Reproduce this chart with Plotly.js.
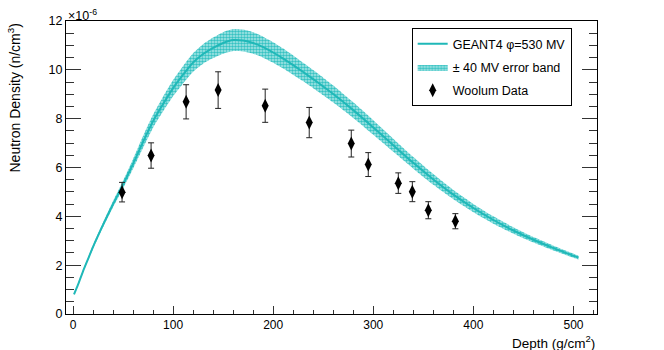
<!DOCTYPE html>
<html>
<head>
<meta charset="utf-8">
<script src="https://cdn.plot.ly/plotly-3.0.1.min.js"></script>
<style>
html,body{margin:0;padding:0;background:#fff;}
#chart{width:664px;height:350px;}
</style>
</head>
<body>
<div id="chart"></div>
<script>
// GEANT4 simulation (phi = 530 MV), depth in g/cm^2, density in 1e-6 n/cm^3
const simDepth  = [1, 5, 10, 15, 20, 30, 40, 50, 60, 70, 80, 90, 100, 110, 120, 130, 140, 150, 160, 170, 180, 190, 200, 210, 220, 230, 240, 250, 260, 280, 300, 320, 340, 360, 380, 400, 420, 440, 460, 480, 505];
const simCenter = [0.80, 1.20, 1.75, 2.25, 2.75, 3.65, 4.50, 5.30, 6.15, 7.05, 7.90, 8.60, 9.25, 9.80, 10.30, 10.65, 10.90, 11.10, 11.22, 11.20, 11.10, 10.93, 10.71, 10.46, 10.19, 9.91, 9.62, 9.32, 9.01, 8.35, 7.64, 6.91, 6.19, 5.51, 4.89, 4.34, 3.85, 3.42, 3.04, 2.70, 2.31];
const simUpper  = [0.82, 1.23, 1.80, 2.31, 2.83, 3.75, 4.63, 5.46, 6.35, 7.29, 8.17, 8.90, 9.58, 10.16, 10.68, 11.05, 11.32, 11.54, 11.67, 11.65, 11.54, 11.36, 11.13, 10.87, 10.59, 10.29, 9.99, 9.68, 9.36, 8.67, 7.94, 7.18, 6.43, 5.73, 5.08, 4.51, 4.00, 3.55, 3.15, 2.80, 2.39];
const simLower  = [0.78, 1.17, 1.70, 2.19, 2.67, 3.55, 4.37, 5.14, 5.95, 6.81, 7.63, 8.30, 8.92, 9.44, 9.92, 10.25, 10.48, 10.66, 10.77, 10.75, 10.66, 10.50, 10.29, 10.05, 9.79, 9.53, 9.25, 8.96, 8.66, 8.03, 7.34, 6.64, 5.95, 5.29, 4.70, 4.17, 3.70, 3.29, 2.93, 2.60, 2.23];

// Woolum data
const woolumDepth   = [49, 78, 113, 145, 192, 236, 278, 295, 325, 339, 355, 382];
const woolumDensity = [4.99, 6.49, 8.69, 9.17, 8.53, 7.84, 6.98, 6.12, 5.36, 5.01, 4.25, 3.80];
const woolumErr     = [0.40, 0.52, 0.70, 0.75, 0.68, 0.62, 0.55, 0.49, 0.42, 0.41, 0.35, 0.31];

const cyanLine = '#1fb8b8';
const font = 'Liberation Sans, Arial, Helvetica, sans-serif';

const traces = [
  {
    x: simDepth, y: simLower, mode: 'lines', line: {width: 0, shape: 'spline', smoothing: 0.6, color: cyanLine},
    showlegend: false, hoverinfo: 'skip'
  },
  {
    x: simDepth, y: simUpper, mode: 'lines', line: {width: 0, shape: 'spline', smoothing: 0.6, color: cyanLine},
    fill: 'tonexty', fillcolor: '#8fdede',
    fillpattern: {shape: '.', fgcolor: '#36c2c2', bgcolor: '#aee8e8', size: 3, solidity: 0.55},
    name: '\u00b1 40 MV error band', legendgroup: 'b', legendrank: 2
  },
  {
    x: simDepth, y: simCenter, mode: 'lines', line: {width: 2, shape: 'spline', smoothing: 0.6, color: cyanLine},
    name: 'GEANT4 \u03c6=530 MV', legendgroup: 'a', legendrank: 1
  },
  {
    x: woolumDepth, y: woolumDensity, mode: 'markers',
    marker: {symbol: 'diamond-tall', size: 10, color: '#000'},
    error_y: {type: 'data', array: woolumErr, visible: true, color: '#222', thickness: 1, width: 3},
    name: 'Woolum Data', legendgroup: 'c', legendrank: 3
  }
];

const layout = {
  width: 664, height: 350,
  margin: {l: 66, r: 67, t: 21, b: 36, pad: 0},
  paper_bgcolor: '#fff', plot_bgcolor: '#fff',
  font: {family: font, size: 12, color: '#000'},
  showlegend: true,
  legend: {
    x: 0.651, y: 0.976, xanchor: 'left', yanchor: 'top',
    bordercolor: '#000', borderwidth: 1, bgcolor: '#fff',
    font: {family: font, size: 12.5, color: '#000'},
    tracegroupgap: 4, traceorder: 'grouped'
  },
  xaxis: {
    range: [-7, 523.5], showgrid: false, zeroline: false,
    showline: true, linecolor: '#000', linewidth: 1, mirror: true,
    ticks: 'inside', ticklen: 8, tickcolor: '#333', tickwidth: 1,
    dtick: 100, tick0: 0,
    minor: {ticks: 'inside', ticklen: 4, dtick: 20, tickcolor: '#333', showgrid: false},
    tickfont: {family: font, size: 12, color: '#000'}
  },
  yaxis: {
    range: [0, 12], showgrid: false, zeroline: false,
    showline: true, linecolor: '#000', linewidth: 1, mirror: 'ticks',
    ticks: 'inside', ticklen: 15, tickcolor: '#333', tickwidth: 1,
    dtick: 2, tick0: 0,
    minor: {ticks: 'inside', ticklen: 8, dtick: 0.5, tickcolor: '#333', showgrid: false},
    tickfont: {family: font, size: 12.5, color: '#000'}
  },
  annotations: [
    {
      text: 'Depth (g/cm<sup>2</sup>)', xref: 'paper', yref: 'paper', x: 1, y: 0,
      xanchor: 'right', yanchor: 'top', yshift: -17, showarrow: false,
      font: {family: font, size: 13.5, color: '#000'}
    },
    {
      text: 'Neutron Density (n/cm<sup>3</sup>)', xref: 'paper', yref: 'paper', x: 0, y: 1,
      xanchor: 'right', yanchor: 'top', xshift: -41, textangle: -90, showarrow: false,
      font: {family: font, size: 14, color: '#000'}
    },
    {
      text: '\u00d710<sup>-6</sup>', xref: 'paper', yref: 'paper', x: 0, y: 1,
      xanchor: 'left', yanchor: 'bottom', xshift: 0, yshift: -4, showarrow: false,
      font: {family: font, size: 12.5, color: '#000'}
    }
  ]
};

Plotly.newPlot('chart', traces, layout, {staticPlot: true, displayModeBar: false});
</script>
</body>
</html>
